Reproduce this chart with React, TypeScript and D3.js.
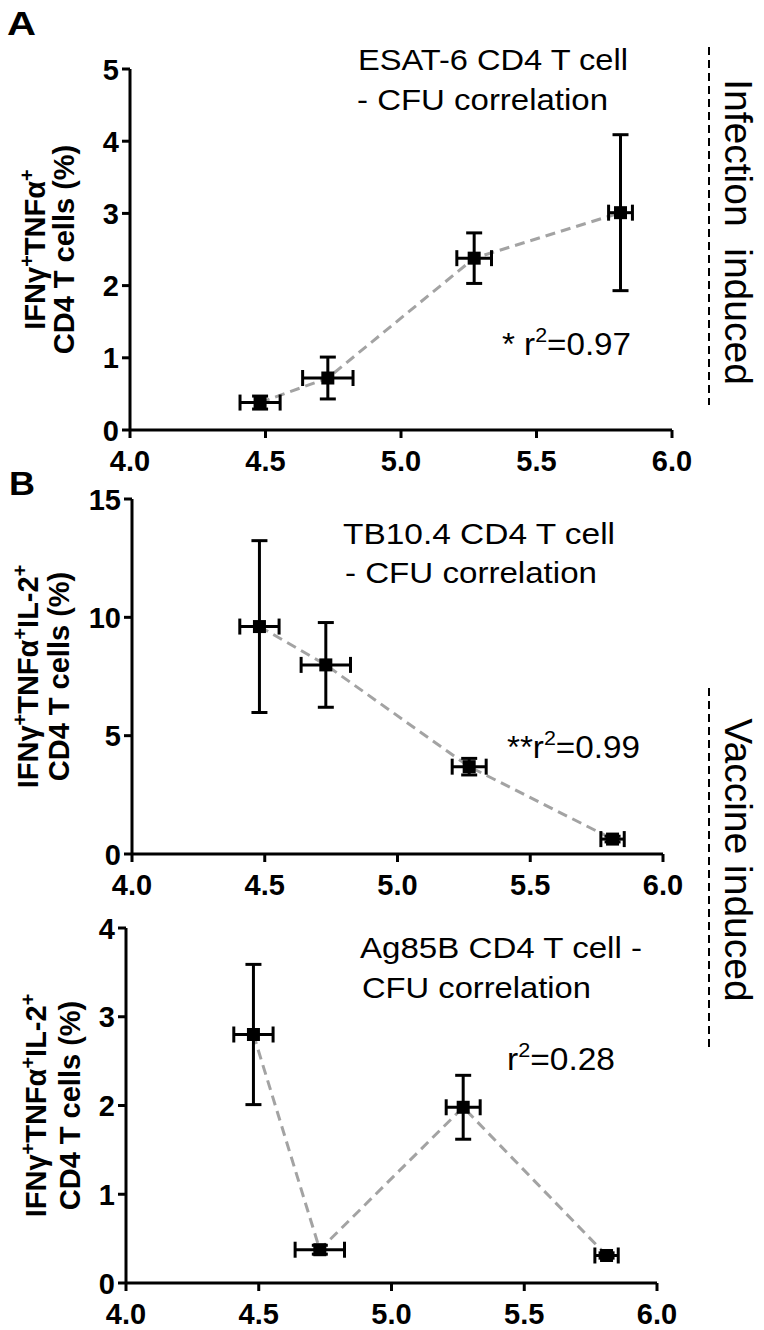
import React from "react";
import * as d3 from "d3";

// ---- data ----
const cfu = [4.48, 4.73, 5.27, 5.81]; // log10 CFU
const cfuErr = [0.074, 0.093, 0.064, 0.044];

const esat6 = [0.38, 0.72, 2.38, 3.01];
const esat6Err = [0.09, 0.29, 0.35, 1.08];

const tb104 = [9.61, 7.99, 3.69, 0.63];
const tb104Err = [3.63, 1.79, 0.35, 0.12];

const ag85b = [2.8, 0.375, 1.98, 0.31];
const ag85bErr = [0.79, 0.05, 0.36, 0.03];

const xTicks = [4.0, 4.5, 5.0, 5.5, 6.0];
const yTicksA = [0, 1, 2, 3, 4, 5];
const yTicksB = [0, 5, 10, 15];
const yTicksC = [0, 1, 2, 3, 4];

const FONT = "'Liberation Sans', Arial, Helvetica, sans-serif";

type PanelProps = {
  xr: [number, number];
  yr: [number, number];
  yMax: number;
  yTicks: number[];
  ys: number[];
  yErr: number[];
  labelX: [number, number];
  line1: React.ReactNode;
};

function Panel({ xr, yr, yMax, yTicks, ys, yErr, labelX, line1 }: PanelProps) {
  const x = d3.scaleLinear().domain([4, 6]).range(xr);
  const y = d3.scaleLinear().domain([0, yMax]).range(yr);
  const pts = cfu.map((c, i) => [x(c), y(ys[i])] as [number, number]);
  const path = d3.line()(pts) || "";
  const cap = 8;
  const sq = 13;
  const cy = (yr[0] + yr[1]) / 2;
  return (
    <g>
      {/* axes */}
      <line x1={xr[0]} x2={xr[1]} y1={yr[0]} y2={yr[0]} stroke="#000" strokeWidth={3} />
      <line x1={xr[0]} x2={xr[0]} y1={yr[0]} y2={yr[1]} stroke="#000" strokeWidth={3} />
      {yTicks.map((t) => (
        <g key={"y" + t}>
          <line x1={xr[0] - 8} x2={xr[0]} y1={y(t)} y2={y(t)} stroke="#000" strokeWidth={3} />
          <text
            x={xr[0] - 11}
            y={y(t) + 10.5}
            textAnchor="end"
            fontWeight="bold"
            fontSize={29}
            fontFamily={FONT}
          >
            {t}
          </text>
        </g>
      ))}
      {xTicks.map((t) => (
        <g key={"x" + t}>
          <line x1={x(t)} x2={x(t)} y1={yr[0]} y2={yr[0] + 8} stroke="#000" strokeWidth={3} />
          <text
            x={x(t)}
            y={yr[0] + 41}
            textAnchor="middle"
            fontWeight="bold"
            fontSize={29}
            fontFamily={FONT}
          >
            {t.toFixed(1)}
          </text>
        </g>
      ))}
      {/* y label */}
      <text
        transform={`translate(${labelX[0]},${cy}) rotate(-90)`}
        textAnchor="middle"
        fontWeight="bold"
        fontSize={29}
        fontFamily={FONT}
      >
        {line1}
      </text>
      <text
        transform={`translate(${labelX[1]},${cy}) rotate(-90)`}
        textAnchor="middle"
        fontWeight="bold"
        fontSize={29}
        fontFamily={FONT}
      >
        CD4 T cells (%)
      </text>
      {/* connecting dashed line */}
      <path d={path} fill="none" stroke="#a3a3a3" strokeWidth={3} strokeDasharray="10 6" />
      {/* error bars */}
      {cfu.map((c, i) => {
        const px = x(c);
        const py = y(ys[i]);
        const yt = y(ys[i] + yErr[i]);
        const yb = y(ys[i] - yErr[i]);
        const xl = x(c - cfuErr[i]);
        const xh = x(c + cfuErr[i]);
        return (
          <g key={"e" + i} stroke="#000" strokeWidth={3}>
            <line x1={px} x2={px} y1={yt} y2={yb} />
            <line x1={px - cap} x2={px + cap} y1={yt} y2={yt} />
            <line x1={px - cap} x2={px + cap} y1={yb} y2={yb} />
            <line x1={xl} x2={xh} y1={py} y2={py} />
            <line x1={xl} x2={xl} y1={py - cap} y2={py + cap} />
            <line x1={xh} x2={xh} y1={py - cap} y2={py + cap} />
          </g>
        );
      })}
      {pts.map((p, i) => (
        <rect key={"m" + i} x={p[0] - sq / 2} y={p[1] - sq / 2} width={sq} height={sq} fill="#000" />
      ))}
    </g>
  );
}

function HText({ x, y, w, fs = 30, children }: { x: number; y: number; w: number; fs?: number; children: React.ReactNode }) {
  return (
    <text x={x} y={y} textLength={w} lengthAdjust="spacingAndGlyphs" fontSize={fs} fontFamily={FONT} fill="#000">
      {children}
    </text>
  );
}

export default function App() {
  return (
    <svg
      width={764}
      height={1330}
      viewBox="0 0 764 1330"
      style={{ position: "absolute", left: 0, top: 0, background: "#fff" }}
    >
      <rect width={764} height={1330} fill="#fff" />
      {/* panel letters */}
      <text x={7} y={35} fontSize={34} fontWeight="bold" fontFamily={FONT} textLength={29} lengthAdjust="spacingAndGlyphs">A</text>
      <text x={9} y={495} fontSize={33} fontWeight="bold" fontFamily={FONT} textLength={26} lengthAdjust="spacingAndGlyphs">B</text>

      <Panel
        xr={[130, 672]}
        yr={[430, 69]}
        yMax={5}
        yTicks={yTicksA}
        ys={esat6}
        yErr={esat6Err}
        labelX={[45, 74]}
        line1={
          <>
            IFNγ<tspan dy={-11} fontSize={20}>+</tspan>
            <tspan dy={11}>TNFα</tspan>
            <tspan dy={-11} fontSize={20}>+</tspan>
          </>
        }
      />
      <Panel
        xr={[132, 663]}
        yr={[854, 499]}
        yMax={15}
        yTicks={yTicksB}
        ys={tb104}
        yErr={tb104Err}
        labelX={[38, 69]}
        line1={
          <>
            IFNγ<tspan dy={-11} fontSize={20}>+</tspan>
            <tspan dy={11}>TNFα</tspan>
            <tspan dy={-11} fontSize={20}>+</tspan>
            <tspan dy={11}>IL-2</tspan>
            <tspan dy={-11} fontSize={20}>+</tspan>
          </>
        }
      />
      <Panel
        xr={[126, 657]}
        yr={[1283, 928]}
        yMax={4}
        yTicks={yTicksC}
        ys={ag85b}
        yErr={ag85bErr}
        labelX={[46, 80]}
        line1={
          <>
            IFNγ<tspan dy={-11} fontSize={20}>+</tspan>
            <tspan dy={11}>TNFα</tspan>
            <tspan dy={-11} fontSize={20}>+</tspan>
            <tspan dy={11}>IL-2</tspan>
            <tspan dy={-11} fontSize={20}>+</tspan>
          </>
        }
      />

      {/* titles */}
      <HText x={358} y={70} w={270}>ESAT-6 CD4 T cell</HText>
      <HText x={357} y={110} w={251}>- CFU correlation</HText>
      <HText x={343} y={544} w={272}>TB10.4 CD4 T cell</HText>
      <HText x={345} y={583} w={252}>- CFU correlation</HText>
      <HText x={360} y={958} w={282}>Ag85B CD4 T cell -</HText>
      <HText x={362} y={998} w={229}>CFU correlation</HText>

      {/* r² annotations */}
      <HText x={502} y={355} w={129} fs={31}>
        * r<tspan dy={-13} fontSize={20}>2</tspan><tspan dy={13}>=0.97</tspan>
      </HText>
      <HText x={507} y={758} w={133} fs={31}>
        **r<tspan dy={-13} fontSize={20}>2</tspan><tspan dy={13}>=0.99</tspan>
      </HText>
      <HText x={507} y={1070} w={108} fs={31}>
        r<tspan dy={-13} fontSize={20}>2</tspan><tspan dy={13}>=0.28</tspan>
      </HText>

      {/* side brackets */}
      <line x1={709} x2={709} y1={47} y2={405} stroke="#000" strokeWidth={2} strokeDasharray="8 5" />
      <text
        transform="translate(725,232) rotate(90)"
        textAnchor="middle"
        fontSize={39}
        fontFamily={FONT}
      >
        {"Infection\u00A0\u00A0induced"}
      </text>
      <line x1={709} x2={709} y1={688} y2={1047} stroke="#000" strokeWidth={2} strokeDasharray="8 5" />
      <text
        transform="translate(725,860) rotate(90)"
        textAnchor="middle"
        fontSize={39}
        fontFamily={FONT}
      >
        Vaccine induced
      </text>
    </svg>
  );
}
